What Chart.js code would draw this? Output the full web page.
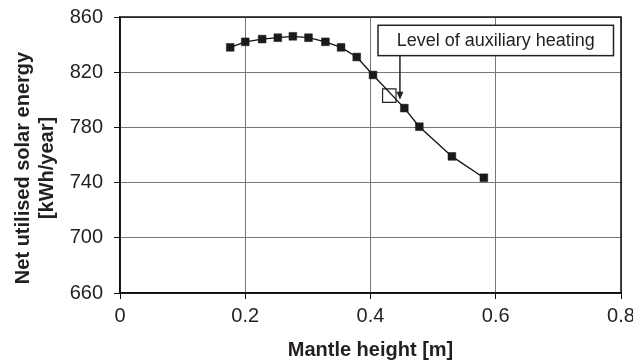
<!DOCTYPE html>
<html><head><meta charset="utf-8">
<script src="https://cdn.jsdelivr.net/npm/chart.js@4"></script>
<style>html,body{margin:0;padding:0;background:#fff}#wrap{width:633px;height:362px}</style>
</head><body><div id="wrap"><canvas id="c" width="633" height="362"></canvas></div>
<script>
const mantleHeight = [0.176, 0.200, 0.227, 0.252, 0.276, 0.301, 0.328, 0.353, 0.378, 0.404, 0.454, 0.478, 0.530, 0.581];
const solarEnergy  = [838, 842, 844, 845, 846, 845, 842, 838, 831, 818, 794, 780.5, 759, 743.5];
const auxLevelX = [0.43];
const auxLevelY = [803];
const xTickLabels = ['0', '0.2', '0.4', '0.6', '0.8'];
const yTickLabels = ['660', '700', '740', '780', '820', '860'];
const xTitle = 'Mantle height [m]';
const yTitle = ['Net utilised solar energy', '[kWh/year]'];
const annotationText = 'Level of auxiliary heating';
const annotationBox = {xMin: 0.412, xMax: 0.788, yMin: 832, yMax: 854, arrowX: 0.447, arrowY: 800};

const TXT = '#231f20';
const FONT = "'Liberation Sans', Arial, sans-serif";

const extras = {
  id: 'extras',
  afterDraw(chart) {
    const {ctx, chartArea: a, scales: {x, y}} = chart;
    ctx.save();
    // full frame
    ctx.strokeStyle = '#111'; ctx.lineWidth = 1.5;
    ctx.strokeRect(a.left, a.top, a.right - a.left, a.bottom - a.top);
    // y title (two lines, rotated)
    ctx.fillStyle = TXT;
    ctx.font = "bold 20px " + FONT;
    ctx.textAlign = 'center'; ctx.textBaseline = 'middle';
    const cy = 168;
    [23, 47].forEach((cx, i) => {
      ctx.save(); ctx.translate(cx, cy); ctx.rotate(-Math.PI / 2);
      ctx.fillText(yTitle[i], 0, 0); ctx.restore();
    });
    // annotation box
    const bx1 = x.getPixelForValue(annotationBox.xMin), bx2 = x.getPixelForValue(annotationBox.xMax);
    const by1 = y.getPixelForValue(annotationBox.yMax), by2 = y.getPixelForValue(annotationBox.yMin);
    ctx.fillStyle = '#fff'; ctx.fillRect(bx1, by1, bx2 - bx1, by2 - by1);
    ctx.strokeStyle = '#222'; ctx.lineWidth = 1.5;
    ctx.strokeRect(bx1, by1, bx2 - bx1, by2 - by1);
    ctx.fillStyle = TXT; ctx.font = "18px " + FONT;
    ctx.fillText(annotationText, (bx1 + bx2) / 2, (by1 + by2) / 2 + 1);
    // arrow
    const ax = x.getPixelForValue(annotationBox.arrowX), ay = y.getPixelForValue(annotationBox.arrowY);
    ctx.beginPath(); ctx.moveTo(ax, by2); ctx.lineTo(ax, ay - 5); ctx.lineWidth = 1.5; ctx.stroke();
    ctx.beginPath(); ctx.moveTo(ax, ay); ctx.lineTo(ax - 3.5, ay - 8); ctx.lineTo(ax + 3.5, ay - 8); ctx.closePath();
    ctx.fillStyle = '#222'; ctx.fill();
    ctx.restore();
  }
};

new Chart(document.getElementById('c'), {
  type: 'scatter',
  data: {
    datasets: [
      {
        data: mantleHeight.map((v, i) => ({x: v, y: solarEnergy[i]})),
        showLine: true, borderColor: '#111', borderWidth: 1.3, tension: 0,
        pointStyle: 'rect', pointRadius: 5.5, pointBackgroundColor: '#1a1a1a', pointBorderColor: '#1a1a1a', pointBorderWidth: 0.5
      },
      {
        data: auxLevelX.map((v, i) => ({x: v, y: auxLevelY[i]})),
        showLine: false, pointStyle: 'rect', pointRadius: 9.5,
        pointBackgroundColor: 'rgba(0,0,0,0)', pointBorderColor: '#222', pointBorderWidth: 1.2
      }
    ]
  },
  options: {
    responsive: false, animation: false, devicePixelRatio: 1,
    layout: {padding: {left: 0, right: 12, top: 17, bottom: 0}},
    plugins: {legend: {display: false}, tooltip: {enabled: false}},
    scales: {
      x: {
        type: 'linear', min: 0, max: 0.8,
        ticks: {stepSize: 0.2, color: TXT, font: {family: FONT, size: 20}, padding: 5,
          callback: (v) => xTickLabels[Math.round(v / 0.2)] ?? ''},
        grid: {color: '#777', lineWidth: 1, tickColor: '#111', tickLength: 6},
        border: {display: true, color: '#111', width: 1.5},
        title: {display: true, text: xTitle, color: TXT, font: {family: FONT, size: 20, weight: 'bold'}, padding: {top: 0, bottom: 0}},
        afterFit: (s) => { s.height = 69; s.paddingLeft = 0; s.paddingRight = 0; }
      },
      y: {
        type: 'linear', min: 660, max: 860,
        ticks: {stepSize: 40, color: TXT, font: {family: FONT, size: 20}, padding: 11,
          callback: (v) => yTickLabels[Math.round((v - 660) / 40)] ?? ''},
        grid: {color: '#777', lineWidth: 1, tickColor: '#111', tickLength: 6},
        border: {display: true, color: '#111', width: 1.5},
        afterFit: (s) => { s.width = 120; s.paddingTop = 0; s.paddingBottom = 0; }
      }
    }
  },
  plugins: [extras]
});
</script></body></html>
